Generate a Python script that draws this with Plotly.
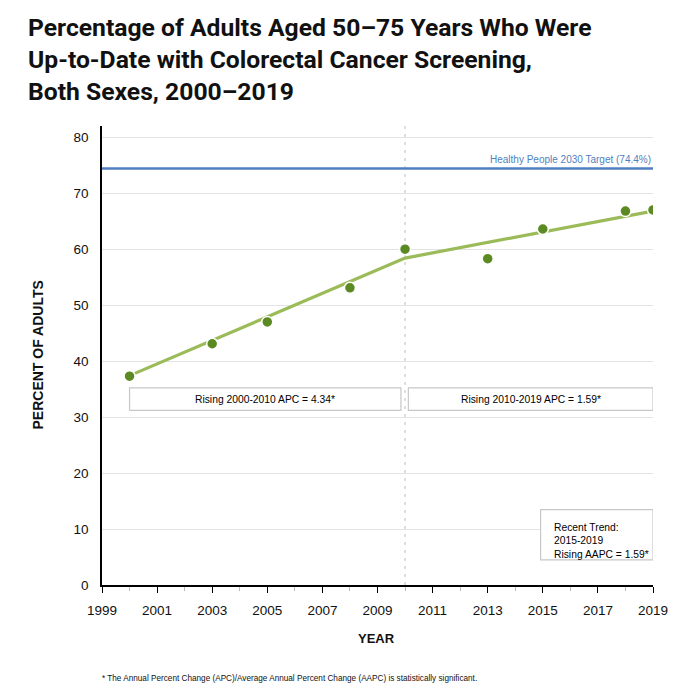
import plotly.graph_objects as go

# ---- data ----
years = [2000, 2003, 2005, 2008, 2010, 2013, 2015, 2018, 2019]
observed = [37.3, 43.1, 47.0, 53.1, 60.0, 58.3, 63.6, 66.8, 67.0]
trend_years = [2000, 2010, 2019]
trend_values = [37.4, 58.4, 66.8]
target_value = 74.4
target_label = "Healthy People 2030 Target (74.4%)"
joinpoint_year = 2010
segment_starts = [2000, 2010]
segment_ends = [2010, 2019]
segment_labels = ["Rising 2000-2010 APC = 4.34*", "Rising 2010-2019 APC = 1.59*"]
recent_trend_text = "Recent Trend:<br>2015-2019<br>Rising AAPC = 1.59*"
x_ticks = list(range(1999, 2020, 2))
y_ticks = list(range(0, 81, 10))

SANS = "Liberation Sans, Arial, Helvetica, sans-serif"
TITLE_FONT = "Roboto, Noto Sans, sans-serif"

# layout geometry (page body has an 8px offset)
ML, MR, MT, MB = 94, 55, 118, 123
PW = 700 - ML - MR
PH = 700 - MT - MB

fig = go.Figure()

fig.add_trace(go.Scatter(
    x=[1999, 2019], y=[target_value, target_value], mode="lines",
    line=dict(color="#4f7fc0", width=2.5), hoverinfo="skip", showlegend=False))

fig.add_trace(go.Scatter(
    x=trend_years, y=trend_values, mode="lines",
    line=dict(color="#9bbb59", width=3.2), showlegend=False))

fig.add_trace(go.Scatter(
    x=years, y=observed, mode="markers",
    marker=dict(color="#5b8a23", size=11, line=dict(color="white", width=1.5)),
    showlegend=False))

shapes = [dict(type="line", xref="x", yref="paper", x0=joinpoint_year, x1=joinpoint_year,
               y0=0, y1=1, line=dict(color="#bdbdbd", width=1, dash="3px,5px"), layer="below")]
annotations = []
for i, (s, e, lab) in enumerate(zip(segment_starts, segment_ends, segment_labels)):
    x0 = s + (0.0 if i == 0 else 0.12)
    x1 = e - (0.15 if i == 0 else 0.0)
    shapes.append(dict(type="rect", xref="x", yref="y", x0=x0, x1=x1, y0=31.2, y1=35.2,
                       line=dict(color="#c8c8c8", width=1.2), fillcolor="white"))
    annotations.append(dict(x=(x0 + x1) / 2, y=33.2, xref="x", yref="y", text=lab,
                            showarrow=False, font=dict(family=SANS, size=10.3, color="#000")))

shapes.append(dict(type="rect", xref="x", yref="y", x0=2014.92, x1=2019, y0=4.5, y1=13.45,
                   line=dict(color="#c8c8c8", width=1.2), fillcolor="white"))
annotations.append(dict(x=2015.35, y=7.9, xref="x", yref="y", text=recent_trend_text,
                        xanchor="left", align="left", showarrow=False,
                        font=dict(family=SANS, size=10.3, color="#000")))

annotations.append(dict(x=2019, y=target_value, xref="x", yref="y", text=target_label,
                        xanchor="right", yanchor="bottom", yshift=2, showarrow=False,
                        font=dict(family=SANS, size=10, color="#4f7fc0")))

annotations.append(dict(x=(18 - ML) / PW, y=1 + (MT - 3) / PH, xref="paper", yref="paper",
                        text="Percentage of Adults Aged 50–75 Years Who Were<br>Up-to-Date with Colorectal Cancer Screening,<br>Both Sexes, 2000–2019",
                        xanchor="left", yanchor="top", align="left", showarrow=False,
                        font=dict(family=TITLE_FONT, size=24.7, color="#111", weight="bold")))

annotations.append(dict(x=(29.5 - ML) / PW, y=(PH + MT - 347) / PH, xref="paper", yref="paper",
                        text="<b>PERCENT OF ADULTS</b>", textangle=-90, showarrow=False,
                        xanchor="center", yanchor="middle",
                        font=dict(family=SANS, size=14, color="#111")))
annotations.append(dict(x=(368 - ML) / PW, y=-(630 - (MT + PH)) / PH, xref="paper", yref="paper",
                        text="<b>YEAR</b>", showarrow=False, xanchor="center", yanchor="middle",
                        font=dict(family=SANS, size=13, color="#111")))

annotations.append(dict(x=(92 - ML) / PW, y=-(670 - (MT + PH)) / PH, xref="paper", yref="paper",
                        text="* The Annual Percent Change (APC)/Average Annual Percent Change (AAPC) is statistically significant.",
                        xanchor="left", yanchor="middle", showarrow=False,
                        font=dict(family=SANS, size=8.2, color="#111")))

fig.update_layout(
    width=700, height=700,
    margin=dict(l=ML, r=MR, t=MT, b=MB),
    paper_bgcolor="white", plot_bgcolor="white",
    shapes=shapes, annotations=annotations,
    showlegend=False,
    xaxis=dict(range=[1999, 2019], tickvals=x_ticks, showgrid=False, zeroline=False,
               showline=True, linecolor="black", linewidth=1.5,
               ticks="outside", ticklen=6, tickcolor="black", tickwidth=1,
               minor=dict(dtick=1, tick0=1999, ticks="outside", ticklen=4, tickcolor="#bbbbbb", showgrid=False),
               ticklabelstandoff=6,
               tickfont=dict(family=SANS, size=13.5, color="#111")),
    yaxis=dict(range=[0, 82], tickvals=y_ticks, showgrid=True, gridcolor="#e3e3e3", gridwidth=1,
               zeroline=False, showline=True, linecolor="black", linewidth=1.5, ticks="",
               ticklabelstandoff=9,
               tickfont=dict(family=SANS, size=13.5, color="#111")),
)

fig.write_html("out.html")
